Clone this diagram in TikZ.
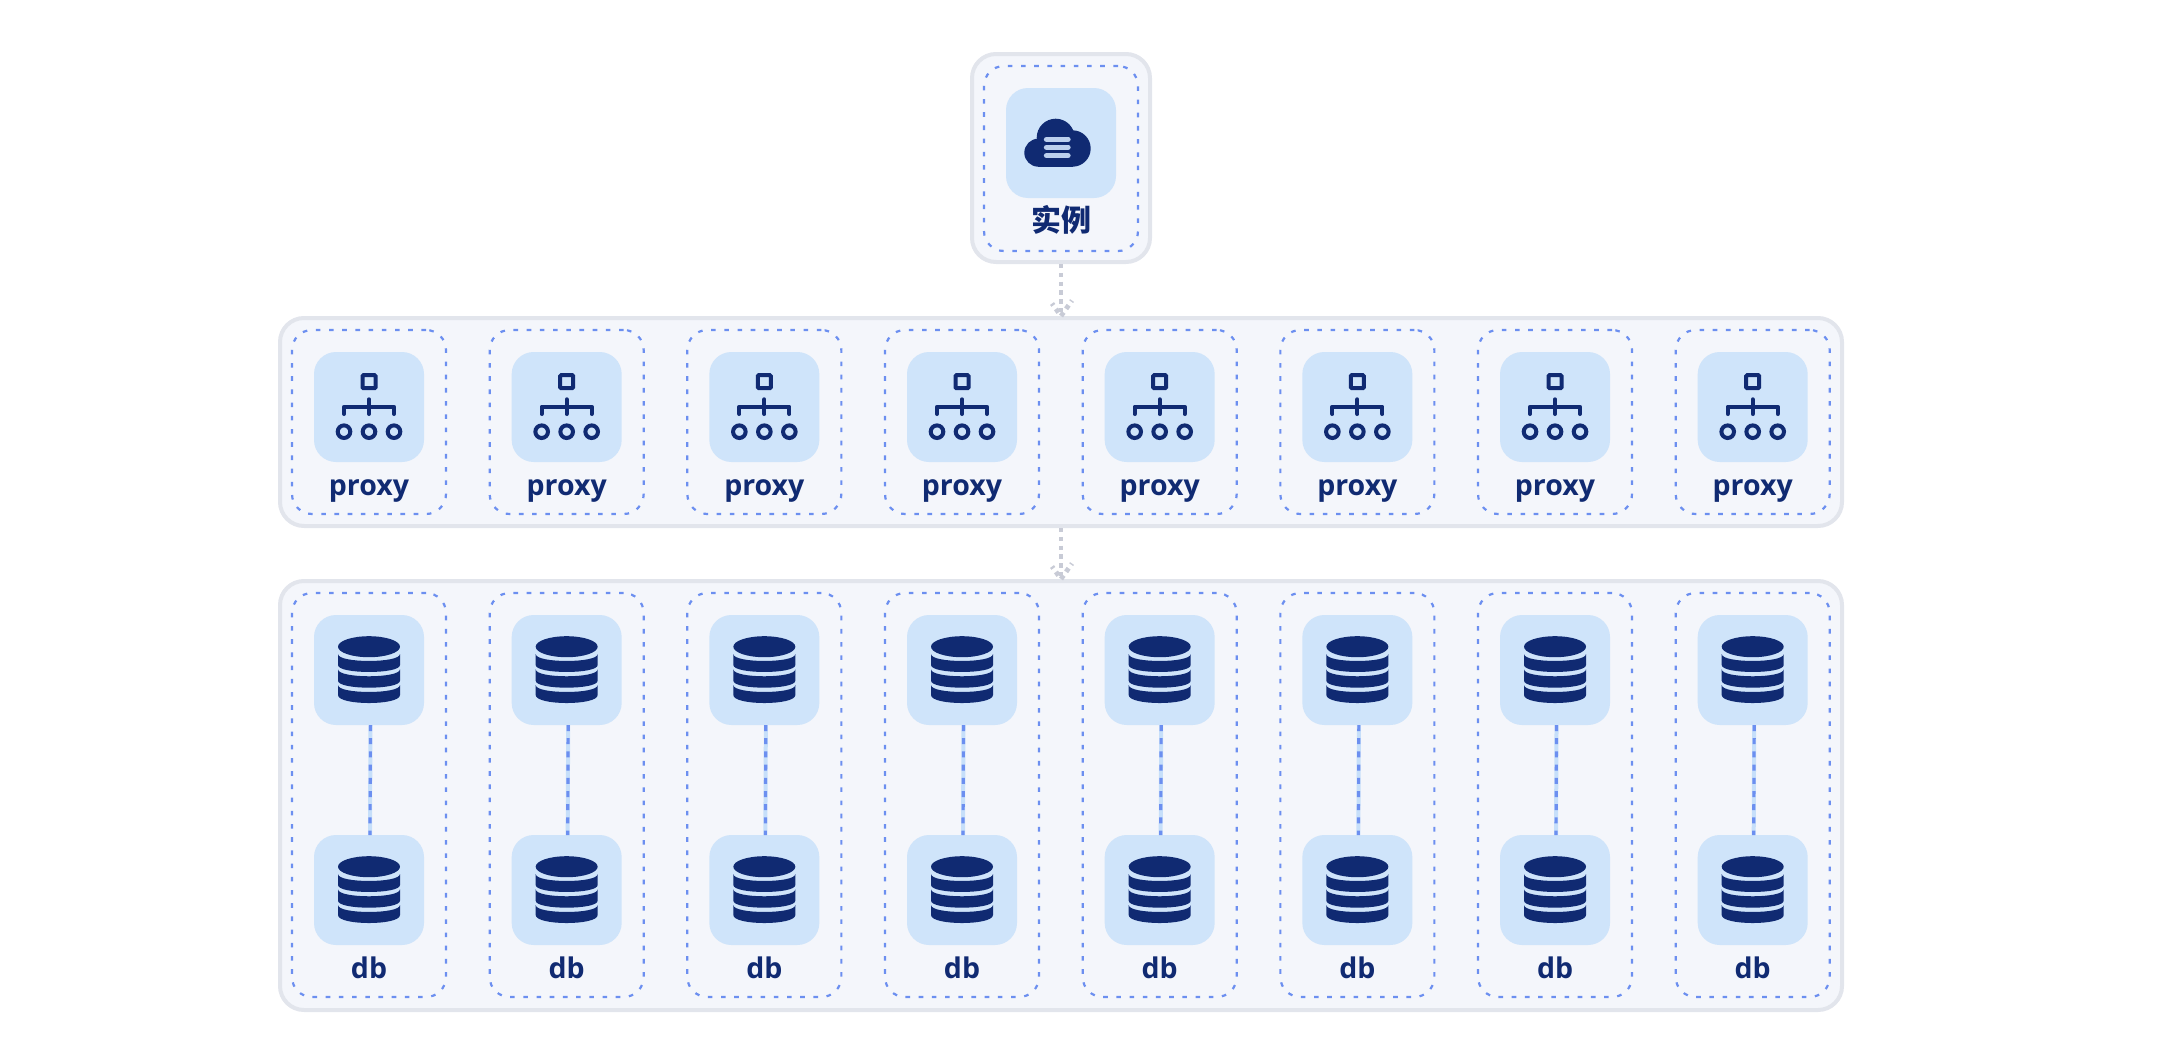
\documentclass[tikz,border=0pt]{standalone}
\usepackage{fontspec}
\newfontfamily\labfont{Open Sans}
\newfontfamily\cjkfont{Noto Sans CJK SC}
\definecolor{panelfill}{HTML}{F4F6FB}
\definecolor{panelline}{HTML}{E2E5EC}
\definecolor{dashblue}{HTML}{6C8FF0}
\definecolor{tileblue}{HTML}{CFE4FA}
\definecolor{navy}{HTML}{102A72}
\definecolor{barlight}{HTML}{BCD0EE}
\definecolor{connectgrey}{HTML}{C8CBD6}
\definecolor{linklight}{HTML}{C6DFFA}
\tikzset{
  panel/.style={draw=panelline,fill=panelfill,line width=4pt,rounded corners=24pt,inner sep=0pt},
  group/.style={draw=dashblue,line width=2.2pt,dash pattern=on 4.6pt off 8.6pt,rounded corners=20pt,inner sep=0pt,minimum width=154pt},
  tile/.style={fill=tileblue,rounded corners=22pt,minimum width=110pt,minimum height=110pt,inner sep=0pt,outer sep=0pt},
  lab/.style={text=navy,font=\labfont\bfseries\fontsize{28.5}{32}\selectfont,anchor=base,inner sep=0pt},
  flow/.style={draw=connectgrey,line width=4.8pt,dash pattern=on 4.4pt off 4.4pt},
  linkbase/.style={draw=linklight,line width=4pt},
  linkdash/.style={draw=dashblue,line width=3.2pt,dash pattern=on 6pt off 7.2pt},
  cloudicon/.pic={
    \fill[navy] (-5.3,-5.3) circle[radius=19];
    \fill[navy] (11.5,5.5) circle[radius=18.2];
    \fill[navy] (-22.7,9.7) circle[radius=14];
    \fill[navy] (-22.7,10) rectangle (11.5,23.7);
    \foreach \yy in {-3.7,4.3,12.7}
      \draw[barlight,line width=5.3pt,line cap=round] (-14.5,\yy) -- (7,\yy);
  },
  proxyicon/.pic={
    \draw[navy,line width=4pt,rounded corners=1pt] (-6.5,-31.8) rectangle (6.5,-18.8);
    \draw[navy,line width=4pt,line cap=round,line join=round] (-25,7) -- (-25,-0.3) -- (25,-0.3) -- (25,7);
    \draw[navy,line width=4pt,line cap=round] (0,-7.7) -- (0,7);
    \foreach \xx in {-25,0,25}
      \draw[navy,line width=4pt] (\xx,24.7) circle[radius=6.3];
  },
  dbicon/.pic={
    \fill[navy] (0,-23.3) ellipse[x radius=31,y radius=10.5];
    \fill[navy] (-31,-16) .. controls (-31,-6.7) and (31,-6.7) .. (31,-16) -- (31,-5)
       .. controls (31,4.3) and (-31,4.3) .. (-31,-5) -- cycle;
    \fill[navy] (-31,-0.7) .. controls (-31,8.6) and (31,8.6) .. (31,-0.7) -- (31,10.7)
       .. controls (31,20) and (-31,20) .. (-31,10.7) -- cycle;
    \fill[navy] (-31,15) .. controls (-31,24.3) and (31,24.3) .. (31,15) -- (31,25)
       .. controls (31,35.7) and (-31,35.7) .. (-31,25) -- cycle;
  },
}
\begin{document}
\begin{tikzpicture}[x=1pt,y=-1pt]
\useasboundingbox (0,0) rectangle (2176,1052);
% panels
\node[panel,minimum width=178pt,minimum height=208pt] (inst) at (1061,158) {};
\node[panel,minimum width=1562pt,minimum height=208pt] (rowp) at (1061,422) {};
\node[panel,minimum width=1562pt,minimum height=429pt] (rowd) at (1061,795.5) {};
% instance
\node[group,minimum height=185pt] (instg) at (1061,158.5) {};
\node[tile] (instt) at (1061,143) {};
\pic at (instt.center) {cloudicon};
\node[text=navy,inner sep=0pt,font=\cjkfont\bfseries\fontsize{30}{32}\selectfont] (instl) at (1061,220) {实例};
% columns
\foreach \i in {0,...,7}{
  \pgfmathsetmacro{\cx}{369+197.67*\i}
  \node[group,minimum height=184pt] (pg\i) at (\cx,422) {};
  \node[tile] (pt\i) at (\cx,407) {};
  \pic at (pt\i.center) {proxyicon};
  \node[lab] (pl\i) at (\cx,495) {proxy};
  \node[group,minimum height=404pt] (dg\i) at (\cx,795) {};
  \node[tile] (da\i) at (\cx,670) {};
  \pic at (da\i.center) {dbicon};
  \node[tile] (db\i) at (\cx,890) {};
  \pic at (db\i.center) {dbicon};
  \node[lab] (dl\i) at (\cx,978) {db};
  \draw[linkbase] ([xshift=1.5pt]da\i.south) -- ([xshift=1pt]db\i.north);
  \draw[linkdash] ([xshift=1.5pt]da\i.south) -- ([xshift=1pt]db\i.north);
}
% connectors
\draw[flow] (inst.south) -- (rowp.north);
\draw[flow] (rowp.north) -- ++(11,-15.5);
\draw[flow] (rowp.north) ++(-2.5,-3.5) -- ++(-6.5,-9);
\draw[flow] (rowp.south) -- (rowd.north);
\draw[flow] (rowd.north) -- ++(11,-15.5);
\draw[flow] (rowd.north) ++(-2.5,-3.5) -- ++(-6.5,-9);
\end{tikzpicture}
\end{document}
